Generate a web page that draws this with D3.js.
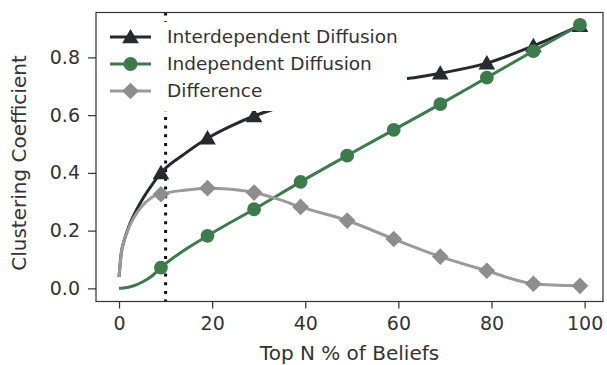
<!DOCTYPE html>
<html>
<head>
<meta charset="utf-8">
<script src="https://cdn.jsdelivr.net/npm/d3@7"></script>
<style>
  html, body { margin: 0; padding: 0; background: #fff; }
  svg { display: block; font-family: "DejaVu Sans", sans-serif; }
</style>
</head>
<body>
<svg id="chart" width="607" height="365"></svg>
<script>
// Top-N percentage positions where markers are placed
const markerX = [9, 19, 29, 39, 49, 59, 69, 79, 89, 99];

// Interdependent diffusion: curve samples and marker values
const interLineX = [0, 0.5, 1, 2, 3, 5, 7, 9, 14, 19, 24, 29, 34, 39, 49, 59, 64, 69, 79, 89, 99];
const interLineY = [0.04, 0.125, 0.16, 0.21, 0.248, 0.308, 0.357, 0.40, 0.465, 0.52, 0.562, 0.597, 0.625, 0.651, 0.695, 0.72, 0.731, 0.745, 0.78, 0.84, 0.91];
const interMarks = [0.40, 0.52, 0.597, 0.651, 0.695, 0.72, 0.745, 0.78, 0.84, 0.91];

// Independent diffusion
const indepLineX = [0, 1, 2, 3, 5, 7, 9, 19, 29, 39, 49, 59, 69, 79, 89, 99];
const indepLineY = [0, 0.001, 0.004, 0.008, 0.022, 0.042, 0.072, 0.182, 0.274, 0.369, 0.46, 0.549, 0.638, 0.73, 0.822, 0.9125];
const indepMarks = [0.072, 0.182, 0.274, 0.369, 0.46, 0.549, 0.638, 0.73, 0.822, 0.9125];

// Difference between the two
const diffLineX = [0, 0.5, 1, 2, 3, 5, 7, 9, 14, 19, 24, 29, 34, 39, 49, 59, 69, 79, 89, 99];
const diffLineY = [0.04, 0.125, 0.159, 0.206, 0.24, 0.286, 0.315, 0.326, 0.34, 0.347, 0.343, 0.332, 0.31, 0.282, 0.235, 0.171, 0.11, 0.061, 0.016, 0.009];
const diffMarks = [0.326, 0.347, 0.332, 0.282, 0.235, 0.171, 0.11, 0.061, 0.016, 0.009];

// Cut-off marker
const cutoffX = 10;

const xTicks = [0, 20, 40, 60, 80, 100];
const yTicks = [0.0, 0.2, 0.4, 0.6, 0.8];

const legendLabels = ["Interdependent Diffusion", "Independent Diffusion", "Difference"];

const colors = { inter: "#26292f", indep: "#3d7b4c", diffLine: "#9a9a9a", diffMark: "#8d8d8d" };

const svg = d3.select("#chart");
const plot = { left: 96, right: 603, top: 12.5, bottom: 301.5 };

const x = d3.scaleLinear().domain([-4.95, 103.95]).range([plot.left, plot.right]);
const y = d3.scaleLinear().domain([-0.0455, 0.9555]).range([plot.bottom, plot.top]);

const textColor = "#333";

// Axes
const xAxis = d3.axisBottom(x).tickValues(xTicks).tickSize(7).tickPadding(8).tickFormat(d3.format("d"));
const yAxis = d3.axisLeft(y).tickValues(yTicks).tickSize(8).tickPadding(8).tickFormat(d3.format(".1f"));

const gx = svg.append("g").attr("transform", `translate(0,${plot.bottom})`).call(xAxis);
const gy = svg.append("g").attr("transform", `translate(${plot.left},0)`).call(yAxis);
[gx, gy].forEach(g => {
  g.select(".domain").remove();
  g.selectAll(".tick line").attr("stroke", textColor).attr("stroke-width", 1.2);
  g.selectAll(".tick text").attr("fill", textColor).style("font-size", "19px")
    .style("font-family", "'DejaVu Sans', sans-serif");
});

// Axis titles
svg.append("text")
  .attr("x", (plot.left + plot.right) / 2).attr("y", 360)
  .attr("text-anchor", "middle").attr("fill", textColor)
  .style("font-size", "20px").text("Top N % of Beliefs");
svg.append("text")
  .attr("transform", `translate(26,163) rotate(-90)`)
  .attr("text-anchor", "middle").attr("fill", textColor)
  .style("font-size", "20px").text("Clustering Coefficient");

// Dotted cut-off line
svg.append("line")
  .attr("x1", x(cutoffX)).attr("x2", x(cutoffX))
  .attr("y1", plot.top).attr("y2", plot.bottom)
  .attr("stroke", "#111").attr("stroke-width", 3)
  .attr("stroke-dasharray", "3,5.7");

const line = d3.line().x(d => x(d[0])).y(d => y(d[1])).curve(d3.curveMonotoneX);

const triangle = d3.symbol().type(d3.symbolTriangle).size(120);
const circle = d3.symbol().type(d3.symbolCircle).size(150);
const diamond = d3.symbol().type(d3.symbolSquare).size(140);

function drawSeries(lx, ly, marks, lineColor, markColor, kind) {
  svg.append("path")
    .datum(lx.map((v, i) => [v, ly[i]]))
    .attr("d", line).attr("fill", "none")
    .attr("stroke", lineColor).attr("stroke-width", 3)
    .attr("stroke-linejoin", "round").attr("stroke-linecap", "butt");
  svg.append("g").selectAll("path")
    .data(markerX.map((v, i) => [v, marks[i]]))
    .join("path")
    .attr("d", kind === "tri" ? triangle() : kind === "circ" ? circle() : diamond())
    .attr("transform", d => `translate(${x(d[0])},${y(d[1]) + (kind === "tri" ? 1.5 : 0)})` + (kind === "dia" ? " rotate(45)" : ""))
    .attr("fill", markColor);
}

drawSeries(interLineX, interLineY, interMarks, colors.inter, colors.inter, "tri");
drawSeries(indepLineX, indepLineY, indepMarks, colors.indep, colors.indep, "circ");
drawSeries(diffLineX, diffLineY, diffMarks, colors.diffLine, colors.diffMark, "dia");

// Legend with opaque background
const legend = svg.append("g");
legend.append("rect")
  .attr("x", 101).attr("y", 22).attr("width", 306).attr("height", 89)
  .attr("fill", "#fff");
const legendItems = [
  { label: legendLabels[0], line: colors.inter, mark: colors.inter, kind: "tri" },
  { label: legendLabels[1], line: colors.indep, mark: colors.indep, kind: "circ" },
  { label: legendLabels[2], line: colors.diffLine, mark: colors.diffMark, kind: "dia" }
];
legendItems.forEach((it, i) => {
  const cy = 37 + i * 27;
  legend.append("line").attr("x1", 110).attr("x2", 151).attr("y1", cy).attr("y2", cy)
    .attr("stroke", it.line).attr("stroke-width", 3);
  legend.append("path")
    .attr("d", it.kind === "tri" ? triangle() : it.kind === "circ" ? circle() : diamond())
    .attr("transform", `translate(130.5,${cy + (it.kind === "tri" ? 1.5 : 0)})` + (it.kind === "dia" ? " rotate(45)" : ""))
    .attr("fill", it.mark);
  legend.append("text").attr("x", 167).attr("y", cy).attr("dy", "0.35em")
    .attr("fill", textColor).style("font-size", "18.5px").text(it.label);
});

// Axes frame
svg.append("rect")
  .attr("x", plot.left).attr("y", plot.top)
  .attr("width", plot.right - plot.left).attr("height", plot.bottom - plot.top)
  .attr("fill", "none").attr("stroke", "#333").attr("stroke-width", 1.2);
</script>
</body>
</html>
